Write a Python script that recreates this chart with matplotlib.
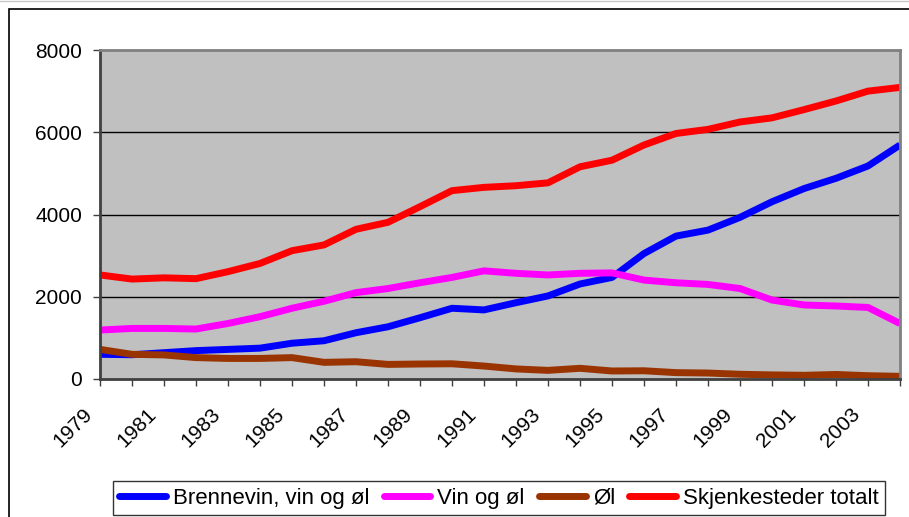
import matplotlib.pyplot as plt
import matplotlib.transforms as mtransforms
from matplotlib.patches import Rectangle
from matplotlib.lines import Line2D

plt.rcParams['font.family'] = ['Liberation Sans', 'DejaVu Sans']

# data
years = list(range(1979, 2005))

brennevin = [600, 590, 640, 690, 720, 750, 870, 930, 1125, 1270,
             1490, 1720, 1680, 1855, 2020, 2310, 2470, 3050, 3475, 3620,
             3930, 4310, 4630, 4880, 5180, 5690]
vin_og_ol = [1190, 1230, 1230, 1215, 1350, 1515, 1720, 1890, 2100, 2200,
             2340, 2470, 2630, 2570, 2530, 2570, 2580, 2405, 2340, 2300,
             2200, 1920, 1800, 1775, 1740, 1350]
ol = [720, 600, 585, 520, 500, 500, 520, 405, 420, 355,
      365, 370, 315, 245, 210, 260, 195, 200, 155, 145,
      115, 100, 90, 110, 80, 65]
totalt = [2530, 2430, 2460, 2440, 2610, 2810, 3120, 3260, 3640, 3810,
          4190, 4580, 4660, 4700, 4770, 5160, 5320, 5690, 5970, 6070,
          6250, 6350, 6550, 6760, 7000, 7090]

series = [
    ('Brennevin, vin og øl', brennevin, '#0000FF'),
    ('Vin og øl', vin_og_ol, '#FF00FF'),
    ('Øl', ol, '#993300'),
    ('Skjenkesteder totalt', totalt, '#FF0000'),
]
yticks = [0, 2000, 4000, 6000, 8000]

fig = plt.figure(figsize=(9.09, 5.17), dpi=100)
W, H = 909, 517
ax = fig.add_axes([100 / W, 1 - 379 / H, 800 / W, 329 / H])
ax.set_facecolor('#C0C0C0')

for label, vals, col in series:
    ax.plot(years, vals, color=col, lw=5, label=label, solid_capstyle='butt')

ax.set_xlim(1979, 2004)
ax.set_ylim(0, 8000)
ax.set_yticks(yticks)
ax.set_yticklabels([str(v) for v in yticks])
ax.set_xticks(years)
ax.set_xticklabels([str(y) if (y - 1979) % 2 == 0 else '' for y in years])

for v in yticks[1:4]:
    ax.axhline(v, color='black', lw=1, zorder=1)

for s in ax.spines.values():
    s.set_color('#808080')
    s.set_linewidth(2)
ax.spines['left'].set_color('#404040')
ax.spines['bottom'].set_color('#404040')

ax.tick_params(axis='y', length=5, width=1, color='#404040', pad=8,
               labelsize=15)
ax.tick_params(axis='x', length=5, width=1, color='#404040', pad=18.5,
               labelsize=15)

shift = mtransforms.ScaledTranslation(-0.11, 0, fig.dpi_scale_trans)
for t in ax.get_xticklabels():
    t.set_rotation(45)
    t.set_ha('right')
    t.set_va('center')
    t.set_rotation_mode('anchor')
    t.set_transform(t.get_transform() + shift)

# legend under the plot
handles = [Line2D([], [], color=c, lw=5, solid_capstyle='round') for _, _, c in series]
leg = fig.legend(handles, [s[0] for s in series], ncol=4, loc='upper center',
                 bbox_to_anchor=(499 / W, 1 - 481 / H), fontsize=16,
                 frameon=True, fancybox=False, handlelength=2.1,
                 handletextpad=0.32, columnspacing=0.64, borderpad=0.3,
                 borderaxespad=0)
leg.get_frame().set_edgecolor('black')
leg.get_frame().set_linewidth(1)

# outer chart frame
fig.patches.append(Rectangle((9 / W, -0.05), 1.1, 1 - 9 / H + 0.05,
                             transform=fig.transFigure, fill=False,
                             edgecolor='black', lw=1.2))
fig.lines.append(Line2D([0, 1], [1 - 0.5 / H, 1 - 0.5 / H],
                        transform=fig.transFigure, color='#C8C8C8', lw=1))

fig.savefig('out.png', dpi=100)
